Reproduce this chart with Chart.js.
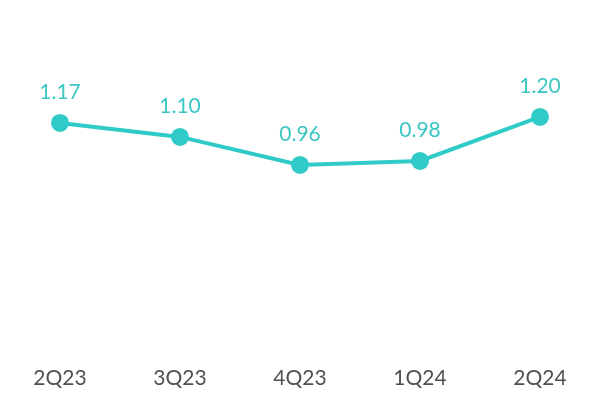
<!DOCTYPE html>
<html>
<head>
<meta charset="utf-8">
<script src="https://cdn.jsdelivr.net/npm/chart.js@4"></script>
<style>
    html, body { margin: 0; padding: 0; background: #ffffff; }
    #wrap { width: 600px; height: 400px; }
</style>
</head>
<body>
<div id="wrap"><canvas id="quarter-chart"></canvas></div>
<script>
// Chart data
const quarters = ['2Q23', '3Q23', '4Q23', '1Q24', '2Q24'];
const values = [1.17, 1.10, 0.96, 0.98, 1.20];

const teal = '#30CBC9';

// Draw value labels above each point
const valueLabels = {
    id: 'valueLabels',
    afterDatasetsDraw(chart) {
        const ctx = chart.ctx;
        const meta = chart.getDatasetMeta(0);
        ctx.save();
        ctx.fillStyle = '#3BC6C4';
        ctx.font = '21px Lato';
        ctx.textAlign = 'center';
        ctx.textBaseline = 'middle';
        meta.data.forEach((point, i) => {
            ctx.fillText(values[i].toFixed(2), point.x, point.y - 31);
        });
        ctx.restore();
    }
};

const ctx = document.getElementById('quarter-chart').getContext('2d');
new Chart(ctx, {
    type: 'line',
    data: {
        labels: quarters,
        datasets: [{
            data: values,
            borderColor: teal,
            backgroundColor: teal,
            borderWidth: 4,
            pointRadius: 9,
            pointHoverRadius: 9,
            pointBorderWidth: 0,
            tension: 0
        }]
    },
    options: {
        responsive: true,
        maintainAspectRatio: false,
        animation: false,
        layout: { autoPadding: false, padding: { top: 0, bottom: 8, left: 0, right: 0 } },
        plugins: {
            legend: { display: false },
            tooltip: { enabled: false }
        },
        scales: {
            x: {
                offset: true,
                grid: { display: false },
                border: { display: false },
                ticks: {
                    color: '#505050',
                    font: { family: 'Lato', size: 21 },
                    padding: 1
                }
            },
            y: {
                display: false,
                min: 0,
                max: 1.785
            }
        }
    },
    plugins: [valueLabels]
});
</script>
</body>
</html>
